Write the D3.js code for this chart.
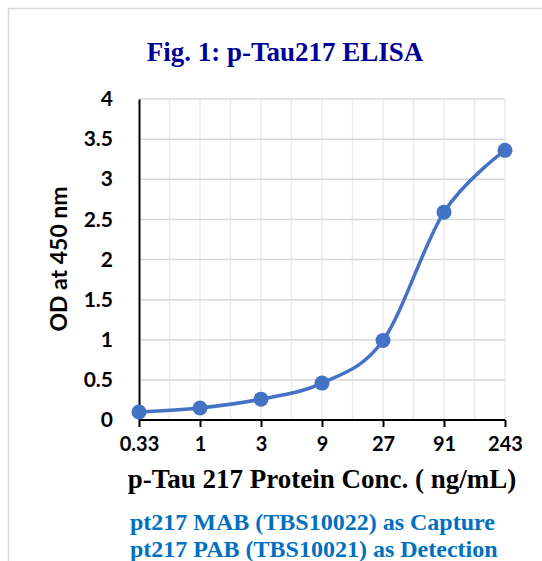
<!DOCTYPE html>
<html>
<head>
<meta charset="utf-8">
<script src="https://cdn.jsdelivr.net/npm/d3@7"></script>
<style>
  body { margin: 0; background: #fff; }
  svg { display: block; }
</style>
</head>
<body>
<svg id="chart" width="542" height="561"></svg>
<script>
// concentrations (ng/mL) and OD readings
const concLabels = ['0.33', '1', '3', '9', '27', '91', '243']
const odValues = [0.10, 0.15, 0.26, 0.46, 0.99, 2.59, 3.36]
const yTicks = [0, 0.5, 1, 1.5, 2, 2.5, 3, 3.5, 4]

const svg = d3.select('#chart')

// outer frame of the figure
svg.append('rect')
  .attr('x', 8.5).attr('y', 8.5)
  .attr('width', 560).attr('height', 580)
  .attr('fill', 'none')
  .attr('stroke', '#d9d9d9')
  .attr('stroke-width', 1.5)

const plotL = 139, plotR = 505, plotT = 99, plotB = 420

const x = d3.scalePoint()
  .domain(concLabels)
  .range([plotL, plotR])

const y = d3.scaleLinear()
  .domain([0, 4])
  .range([plotB, plotT])

const step = x.step()

// vertical gridlines, every half category
const vLines = d3.range(1, (concLabels.length - 1) * 2 + 1).map(i => plotL + i * step / 2)
svg.append('g')
  .selectAll('line')
  .data(vLines)
  .join('line')
  .attr('x1', d => d).attr('x2', d => d)
  .attr('y1', plotT).attr('y2', plotB)
  .attr('stroke', '#ececec')
  .attr('stroke-width', 1.5)

// horizontal gridlines
svg.append('g')
  .selectAll('line')
  .data(yTicks.slice(1))
  .join('line')
  .attr('x1', plotL).attr('x2', plotR)
  .attr('y1', d => y(d)).attr('y2', d => y(d))
  .attr('stroke', '#d9d9d9')
  .attr('stroke-width', 1.5)

// y axis
const yAxis = svg.append('g')
  .attr('transform', `translate(${plotL},0)`)
  .call(d3.axisLeft(y).tickValues(yTicks).tickSize(0).tickPadding(26)
    .tickFormat(d3.format('')))
yAxis.select('.domain').attr('stroke', '#000').attr('stroke-width', 2)
yAxis.selectAll('text')
  .attr('font-family', 'Lato, sans-serif')
  .attr('font-weight', 'bold')
  .attr('font-size', 21)
  .attr('fill', '#000')

// x axis
const xAxis = svg.append('g')
  .attr('transform', `translate(0,${plotB})`)
  .call(d3.axisBottom(x).tickSizeInner(7).tickSizeOuter(0).tickPadding(10))
xAxis.select('.domain').attr('stroke', '#000').attr('stroke-width', 2)
  .attr('d', `M${plotL},0H${plotR}`)
xAxis.selectAll('.tick line').attr('stroke', '#000').attr('stroke-width', 2)
xAxis.selectAll('text')
  .attr('font-family', 'Lato, sans-serif')
  .attr('font-weight', 'bold')
  .attr('font-size', 20)
  .attr('fill', '#000')

// smoothed curve
const line = d3.line()
  .x((d, i) => x(concLabels[i]))
  .y(d => y(d))
  .curve(d3.curveCardinal.tension(0))

svg.append('path')
  .datum(odValues)
  .attr('d', line)
  .attr('fill', 'none')
  .attr('stroke', '#4472c4')
  .attr('stroke-width', 3.5)

svg.append('g')
  .selectAll('circle')
  .data(odValues)
  .join('circle')
  .attr('cx', (d, i) => x(concLabels[i]))
  .attr('cy', d => y(d))
  .attr('r', 7.5)
  .attr('fill', '#4472c4')

// titles
svg.append('text')
  .attr('x', 285).attr('y', 61)
  .attr('text-anchor', 'middle')
  .attr('font-family', '"Liberation Serif", serif')
  .attr('font-weight', 'bold')
  .attr('font-size', 27)
  .attr('fill', '#000099')
  .text('Fig. 1: p-Tau217 ELISA')

svg.append('text')
  .attr('transform', 'translate(67,259) rotate(-90)')
  .attr('text-anchor', 'middle')
  .attr('font-family', 'Lato, sans-serif')
  .attr('font-weight', 'bold')
  .attr('font-size', 23)
  .attr('fill', '#000')
  .text('OD at 450 nm')

svg.append('text')
  .attr('x', 322).attr('y', 488)
  .attr('text-anchor', 'middle')
  .attr('font-family', '"Liberation Serif", serif')
  .attr('font-weight', 'bold')
  .attr('font-size', 27)
  .attr('fill', '#000')
  .text('p-Tau 217 Protein Conc. ( ng/mL)')

const notes = ['pt217 MAB (TBS10022) as Capture', 'pt217 PAB (TBS10021) as Detection']
svg.append('g')
  .selectAll('text')
  .data(notes)
  .join('text')
  .attr('x', 130)
  .attr('y', (d, i) => 530 + i * 27)
  .attr('font-family', '"Liberation Serif", serif')
  .attr('font-weight', 'bold')
  .attr('font-size', 24)
  .attr('fill', '#0070c0')
  .text(d => d)
</script>
</body>
</html>
